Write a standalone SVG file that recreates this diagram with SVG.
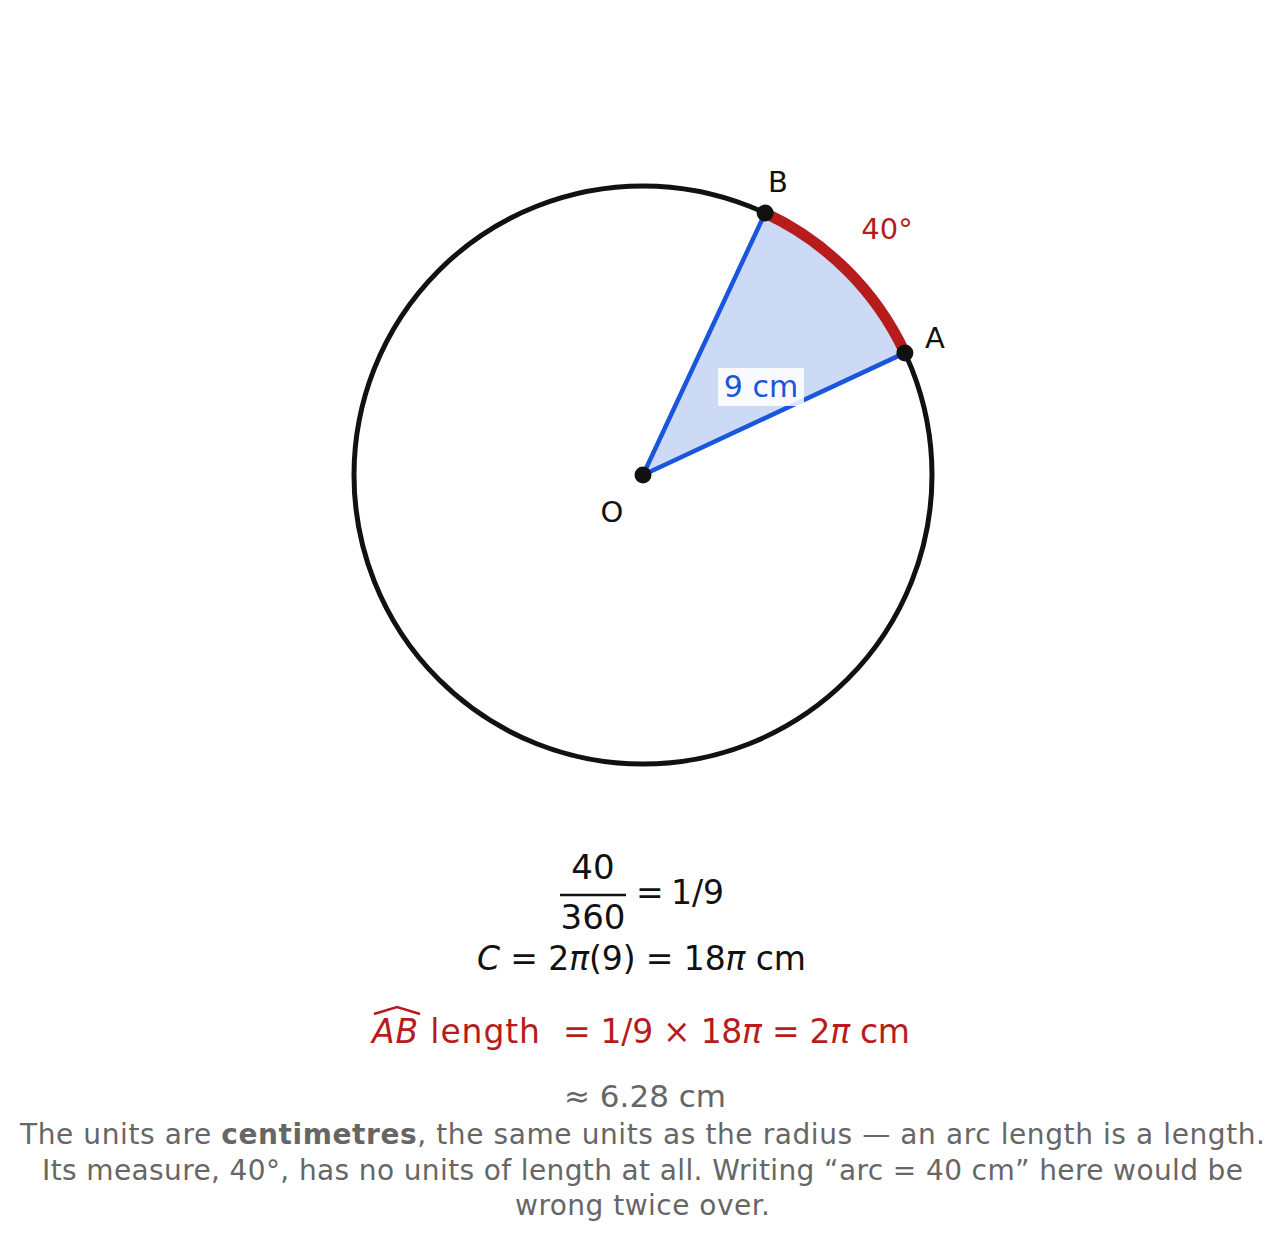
<svg xmlns="http://www.w3.org/2000/svg" width="1285" height="1245" viewBox="0 0 1285 1245">
<style>
text{font-family:"DejaVu Sans","Liberation Sans",sans-serif;}
.lbl{font-size:29px;fill:#111;}
.eq{font-size:33px;fill:#111;}
.red{fill:#b71c1c;}
.gray{fill:#666;}
.it{font-style:italic;}
.note{font-size:28px;fill:#666;}
.pt{fill:#111;}
</style>
<rect width="1285" height="1245" fill="#fff"/>
<g id="circle">
<circle cx="643" cy="475" r="289" fill="none" stroke="#111" stroke-width="5"/>
</g>
<g id="sector">
<path d="M643,475 L904.9,352.9 A289,289 0 0 0 765.1,213.1 Z" fill="#cddaf5" stroke="none"/>
</g>
<g id="connectors">
<line x1="643" y1="475" x2="904.9" y2="352.9" stroke="#1a56db" stroke-width="4.5"/>
<line x1="643" y1="475" x2="765.1" y2="213.1" stroke="#1a56db" stroke-width="4.5"/>
<path d="M904.9,352.9 A289,289 0 0 0 765.1,213.1" fill="none" stroke="#b71c1c" stroke-width="11"/>
</g>
<g id="radius-label">
<rect x="718" y="368" width="86" height="38" fill="#fff" fill-opacity="0.85"/>
<text x="761" y="397" text-anchor="middle" style="font-size:30px;fill:#1a56db">9 cm</text>
</g>
<g id="angle-label"><text x="887" y="239" text-anchor="middle" class="lbl red">40°</text></g>
<g id="O"><circle cx="643" cy="475" r="8.5" class="pt"/><text x="612" y="522" text-anchor="middle" class="lbl">O</text></g>
<g id="A"><circle cx="904.9" cy="352.9" r="8.5" class="pt"/><text x="935" y="348" text-anchor="middle" class="lbl">A</text></g>
<g id="B"><circle cx="765.1" cy="213.1" r="8.5" class="pt"/><text x="778" y="192" text-anchor="middle" class="lbl">B</text></g>
<g id="equations">
<text x="593" y="879" text-anchor="middle" class="eq" style="font-size:34px">40</text>
<line x1="560" y1="895" x2="626" y2="895" stroke="#111" stroke-width="2.5"/>
<text x="593" y="929" text-anchor="middle" class="eq" style="font-size:34px">360</text>
<text x="636" y="904" class="eq">=</text>
<text x="671" y="904" class="eq">1/9</text>
<text x="477" y="970" class="eq" textLength="329" lengthAdjust="spacing"><tspan class="it">C</tspan> = 2<tspan class="it">π</tspan>(9) = 18<tspan class="it">π</tspan> cm</text>
<text x="372" y="1043" class="eq red" textLength="168" lengthAdjust="spacing"><tspan class="it">AB</tspan> length</text>
<text x="563" y="1043" class="eq red" textLength="347" lengthAdjust="spacing">= 1/9 × 18<tspan class="it">π</tspan> = 2<tspan class="it">π</tspan> cm</text>
<path d="M374,1014 L397,1007 L420,1014" fill="none" stroke="#b71c1c" stroke-width="2.5"/>
<text x="645" y="1107" text-anchor="middle" class="eq gray" style="font-size:31px">≈ 6.28 cm</text>
</g>
<g id="note">
<text x="20" y="1144" class="note" textLength="1245" lengthAdjust="spacing">The units are <tspan font-weight="bold">centimetres</tspan>, the same units as the radius — an arc length is a length.</text>
<text x="42" y="1180" class="note" textLength="1201" lengthAdjust="spacing">Its measure, 40°, has no units of length at all. Writing “arc = 40 cm” here would be</text>
<text x="515" y="1215" class="note" textLength="255" lengthAdjust="spacing">wrong twice over.</text>
</g>
</svg>
